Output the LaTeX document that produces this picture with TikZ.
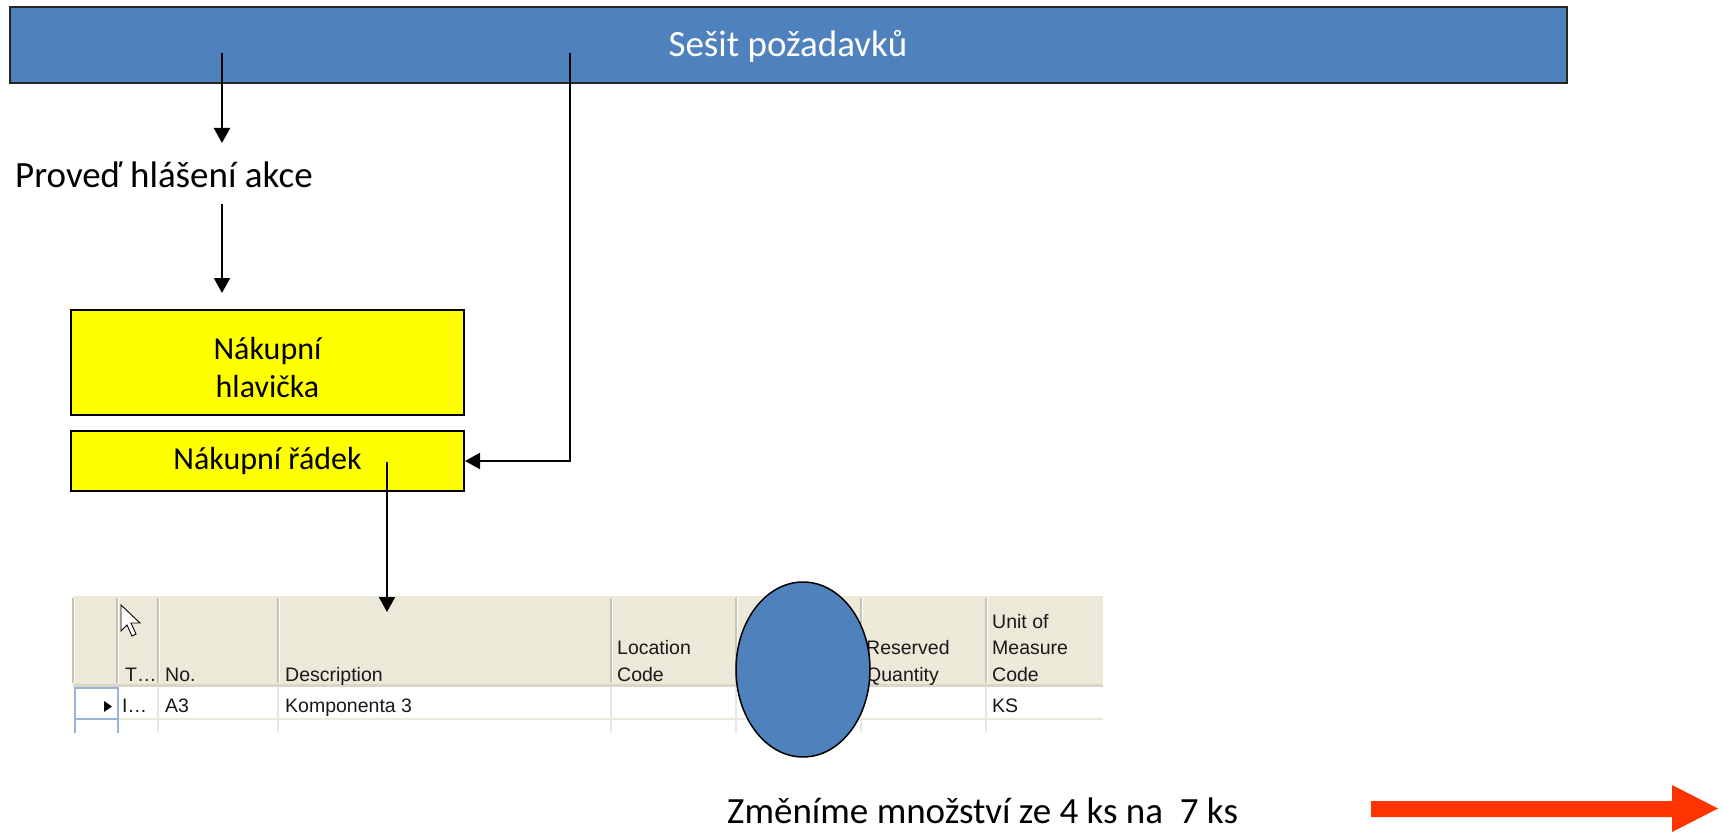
\documentclass[tikz,border=0pt]{standalone}
\usepackage{fontspec}
\setmainfont{Carlito}
\newfontfamily\tablefont{Liberation Sans}
\usetikzlibrary{arrows.meta,shapes.geometric}
\definecolor{barblue}{HTML}{4F81BD}
\definecolor{boxyellow}{HTML}{FFFF00}
\definecolor{arrowred}{HTML}{FF3300}
\definecolor{hdrbg}{HTML}{ECE9D8}
\definecolor{hdrline}{HTML}{C7C3B2}
\definecolor{gridline}{HTML}{EBE9DE}
\definecolor{selblue}{HTML}{98B4D8}
\tikzset{
  bar/.style={rectangle, fill=barblue, draw=black!85, line width=1.5pt, inner sep=0pt},
  bartext/.style={text=white, font=\fontsize{37}{44}\selectfont, inner sep=0pt},
  plain/.style={font=\fontsize{37}{44}\selectfont, inner sep=0pt},
  ybox/.style={rectangle, fill=boxyellow, draw=black, line width=2pt, inner sep=0pt,
    align=center, font=\fontsize{32}{38}\selectfont},
  conn/.style={line width=2pt, -{Triangle[width=16pt,length=15pt]}},
  ttext/.style={font=\tablefont\fontsize{19.5}{26}\selectfont, anchor=base west, inner sep=0pt, text=black!90},
  oval/.style={ellipse, fill=barblue, draw=black, line width=1.5pt, inner sep=0pt}
}
\begin{document}
\begin{tikzpicture}[x=1pt,y=-1pt]
\useasboundingbox (0,0) rectangle (1725,832);
\fill[white] (0,0) rectangle (1725,832);

% top bar
\node[bar, minimum width=1557pt, minimum height=76pt] (bar) at (788.5,45) {};
\node[bartext, anchor=base] (bartitle) at (788,57) {Sešit požadavků};

% text and boxes
\node[plain, anchor=base west] (akce) at (15,187) {Proveď hlášení akce};
\node[ybox, minimum width=393pt, minimum height=105pt] (hlav) at (267.5,362.5) {\rule{0pt}{33pt}Nákupní\\hlavička};
\node[ybox, minimum width=393pt, minimum height=60pt] (radek) at (267.5,461) {Nákupní řádek};

% coordinates for connector ends
\coordinate (s1) at (222,53);
\coordinate (e1) at (222,143);
\coordinate (s2) at (222,204);
\coordinate (e2) at (222,293);
\coordinate (s3) at (570,53);
\coordinate (s4) at (387,462);
\coordinate (e4) at (387,612);

\draw[conn] (s1) -- (e1);
\draw[conn] (s2) -- (e2);
\draw[conn] (s3) |- (radek.east);

% table screenshot
\fill[hdrbg] (73,596) rectangle (1103,686);
\fill[white] (73,686) rectangle (1103,733);
\foreach \x in {73,117,158,278,611,736,861,986}{
  \draw[hdrline, line width=1.2pt] (\x,598) -- (\x,683);
  \draw[white, line width=1pt] (\x+1.5,598) -- (\x+1.5,683);
}
\draw[hdrline!70, line width=3pt] (73,685) -- (1103,685);
\foreach \x in {158,278,611,736,861,986}{
  \draw[gridline, line width=1.2pt] (\x,687) -- (\x,733);
}
\draw[gridline, line width=1.5pt] (118,719) -- (1103,719);
\draw[selblue, line width=1.5pt] (75,688) rectangle (118,719);
\draw[selblue, line width=1.5pt] (75,720) -- (75,733);
\draw[selblue, line width=1.5pt] (118,720) -- (118,733);

% cursor
\draw[fill=white, line width=0.9pt] (121,605) -- (121,631) -- (127,625) -- (132,636) -- (136,634) -- (131,623) -- (140,623) -- cycle;

\node[ttext] (hT) at (125,681) {T…};
\node[ttext] (hNo) at (165,681) {No.};
\node[ttext] (hDesc) at (285,681) {Description};
\node[ttext] (hLoc1) at (617,654) {Location};
\node[ttext] (hLoc2) at (617,681) {Code};
\node[ttext] (hRes1) at (866,654) {Reserved};
\node[ttext] (hRes2) at (866,681) {Quantity};
\node[ttext] (hU1) at (992,628) {Unit of};
\node[ttext] (hU2) at (992,654) {Measure};
\node[ttext] (hU3) at (992,681) {Code};

\fill[black] (104,701) -- (112,706.5) -- (104,712) -- cycle;
\node[ttext] (rT) at (122,712) {I…};
\node[ttext] (rNo) at (165,712) {A3};
\node[ttext] (rDesc) at (285,712) {Komponenta 3};
\node[ttext] (rU) at (992,712) {KS};

% oval
\node[oval, minimum width=134pt, minimum height=175pt] (oval) at (803,669.5) {};

\draw[conn] (s4) -- (e4);

% bottom text and red arrow
\node[plain, anchor=base west] (zmena) at (727,823) {Změníme množství ze 4 ks na\ \ 7 ks};
\fill[arrowred] (1371,801) -- (1672,801) -- (1672,785) -- (1718,808.5) -- (1672,832) -- (1672,817) -- (1371,817) -- cycle;
\end{tikzpicture}
\end{document}
